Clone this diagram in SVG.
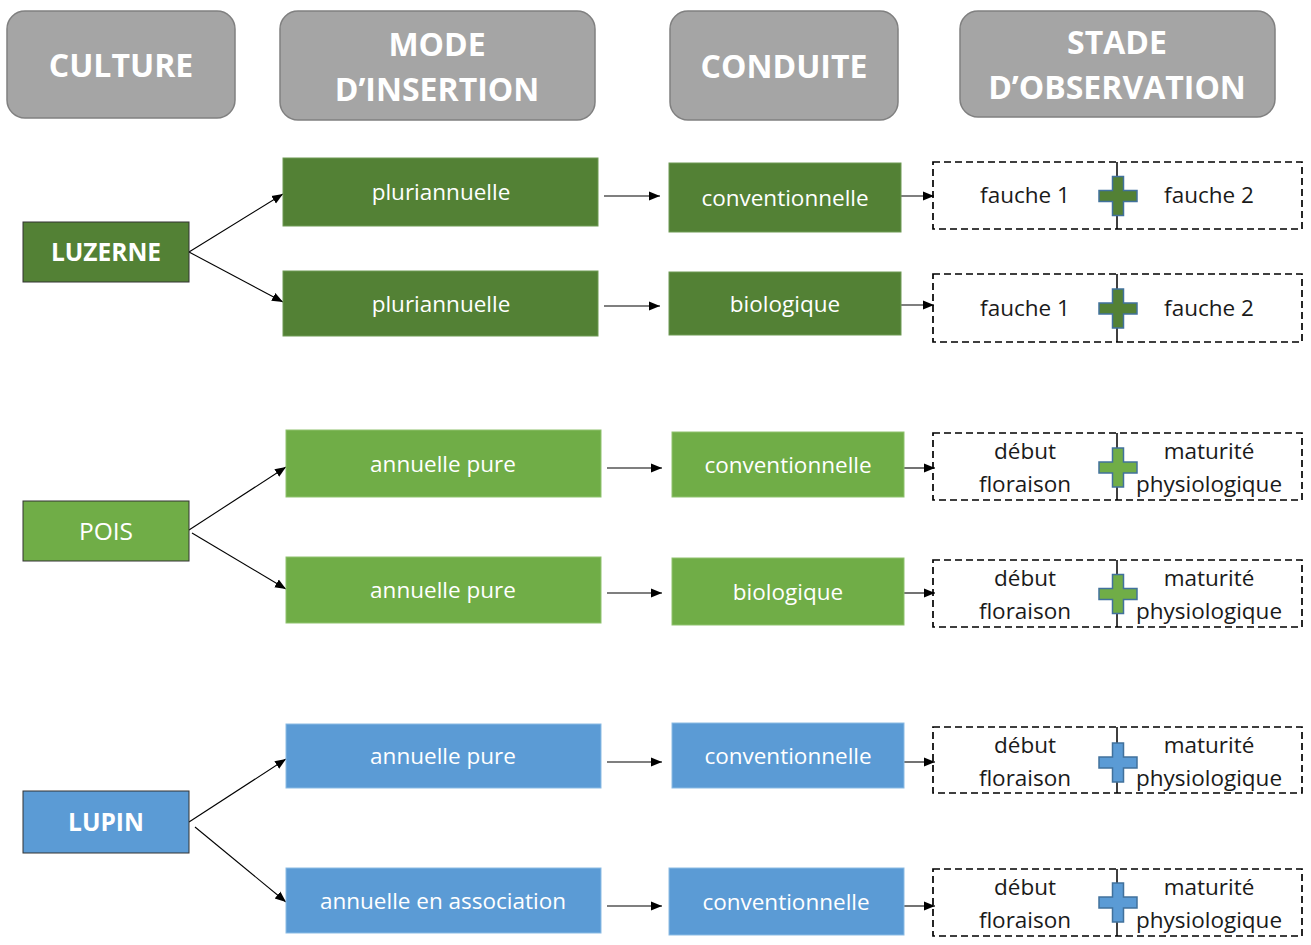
<svg xmlns="http://www.w3.org/2000/svg" width="1311" height="945" viewBox="0 0 1311 945">
<style>
text{font-family:"Open Sans","Noto Sans","DejaVu Sans",sans-serif;text-anchor:middle}
.hdr rect{fill:#a5a5a5;stroke:#808080;stroke-width:1.5}
.hdr text{fill:#fff;font-weight:bold;font-size:32px}
.cult text{fill:#fff;font-size:24.5px}
.b text{fill:#fff;font-size:22.5px}
.dk{fill:#538135}
.gr{fill:#70ad47}
.bl{fill:#5b9bd5}
.cult rect{stroke:#333;stroke-width:1}
.b rect{stroke-width:1}
.dk2{stroke:#6f9a55}
.gr2{stroke:#8fc26e}
.bl2{stroke:#8bbbe4}
.obs rect{fill:none;stroke:#000;stroke-width:1.7;stroke-dasharray:7 4}
.obs line{stroke:#000;stroke-width:1.5;stroke-dasharray:22 3}
.obs text{fill:#1a1a1a;font-size:22.5px}
.plus{stroke:#41719c;stroke-width:1.5}
.conn line{stroke:#000;stroke-width:1.1;marker-end:url(#ah)}
</style>
<defs>
<marker id="ah" viewBox="0 0 10 10" refX="10" refY="5" markerWidth="11" markerHeight="11" markerUnits="userSpaceOnUse" orient="auto">
<path d="M0,1 L10,5 L0,9 Z" fill="#000"/>
</marker>
<path id="plus" d="M-5.5,-19.5 H5.5 V-5.5 H19 V5.5 H5.5 V19.5 H-5.5 V5.5 H-19 V-5.5 H-5.5 Z"/>
</defs>
<rect width="1311" height="945" fill="#fff"/>

<g id="h-culture" class="hdr"><rect x="7" y="11" width="228" height="107" rx="18"/><text x="121" y="77">CULTURE</text></g>
<g id="h-mode" class="hdr"><rect x="280" y="11" width="315" height="109" rx="18"/><text x="437" y="56">MODE</text><text x="437" y="101">D’INSERTION</text></g>
<g id="h-conduite" class="hdr"><rect x="670" y="11" width="228" height="109" rx="18"/><text x="784" y="78">CONDUITE</text></g>
<g id="h-stade" class="hdr"><rect x="960" y="11" width="315" height="106" rx="18"/><text x="1117" y="54">STADE</text><text x="1117" y="99">D’OBSERVATION</text></g>

<g id="connectors" class="conn">
<line x1="189" y1="252" x2="283" y2="194"/>
<line x1="189" y1="252" x2="283" y2="302"/>
<line x1="604" y1="196" x2="660" y2="196"/>
<line x1="901" y1="196" x2="934" y2="196"/>
<line x1="604" y1="306" x2="660" y2="306"/>
<line x1="901" y1="305" x2="934" y2="305"/>
<line x1="189" y1="530" x2="286" y2="467"/>
<line x1="192" y1="533" x2="286" y2="589"/>
<line x1="607" y1="468" x2="662" y2="468"/>
<line x1="904" y1="468" x2="935" y2="468"/>
<line x1="607" y1="593" x2="662" y2="593"/>
<line x1="904" y1="593" x2="935" y2="593"/>
<line x1="189" y1="822" x2="286" y2="759"/>
<line x1="195" y1="827" x2="286" y2="902"/>
<line x1="607" y1="762" x2="662" y2="762"/>
<line x1="904" y1="762" x2="935" y2="762"/>
<line x1="607" y1="906" x2="662" y2="906"/>
<line x1="904" y1="906" x2="935" y2="906"/>
</g>

<g id="luzerne" class="cult"><rect class="dk" x="23" y="222" width="166" height="60"/><text x="106" y="261" font-weight="bold">LUZERNE</text></g>
<g id="pois" class="cult"><rect class="gr" x="23" y="501" width="166" height="60"/><text x="106" y="540">POIS</text></g>
<g id="lupin" class="cult"><rect class="bl" x="23" y="791" width="166" height="62"/><text x="106" y="831" font-weight="bold">LUPIN</text></g>

<g id="m1" class="b"><rect class="dk dk2" x="283" y="158" width="315" height="68"/><text x="441" y="200">pluriannuelle</text></g>
<g id="m2" class="b"><rect class="dk dk2" x="283" y="271" width="315" height="65"/><text x="441" y="312">pluriannuelle</text></g>
<g id="m3" class="b"><rect class="gr gr2" x="286" y="430" width="315" height="67"/><text x="443" y="472">annuelle pure</text></g>
<g id="m4" class="b"><rect class="gr gr2" x="286" y="557" width="315" height="66"/><text x="443" y="598">annuelle pure</text></g>
<g id="m5" class="b"><rect class="bl bl2" x="286" y="724" width="315" height="64"/><text x="443" y="764">annuelle pure</text></g>
<g id="m6" class="b"><rect class="bl bl2" x="286" y="868" width="315" height="65"/><text x="443" y="909">annuelle en association</text></g>

<g id="c1" class="b"><rect class="dk dk2" x="669" y="163" width="232" height="69"/><text x="785" y="206">conventionnelle</text></g>
<g id="c2" class="b"><rect class="dk dk2" x="669" y="272" width="232" height="63"/><text x="785" y="312">biologique</text></g>
<g id="c3" class="b"><rect class="gr gr2" x="672" y="432" width="232" height="65"/><text x="788" y="473">conventionnelle</text></g>
<g id="c4" class="b"><rect class="gr gr2" x="672" y="558" width="232" height="67"/><text x="788" y="600">biologique</text></g>
<g id="c5" class="b"><rect class="bl bl2" x="672" y="723" width="232" height="65"/><text x="788" y="764">conventionnelle</text></g>
<g id="c6" class="b"><rect class="bl bl2" x="669" y="868" width="235" height="67"/><text x="786" y="910">conventionnelle</text></g>

<g id="o1" class="obs"><rect x="933" y="162" width="369" height="67"/><line x1="1117" y1="162" x2="1117" y2="229"/><text x="1025" y="203">fauche 1</text><text x="1209" y="203">fauche 2</text><use href="#plus" class="plus dk" x="1118" y="196"/></g>
<g id="o2" class="obs"><rect x="933" y="274" width="369" height="68"/><line x1="1117" y1="274" x2="1117" y2="342"/><text x="1025" y="316">fauche 1</text><text x="1209" y="316">fauche 2</text><use href="#plus" class="plus dk" x="1118" y="308.5"/></g>
<g id="o3" class="obs"><rect x="933" y="433" width="369" height="67"/><line x1="1117" y1="433" x2="1117" y2="500"/><text x="1025" y="459">début</text><text x="1025" y="492">floraison</text><text x="1209" y="459">maturité</text><text x="1209" y="492">physiologique</text><use href="#plus" class="plus gr" x="1118" y="467.5"/></g>
<g id="o4" class="obs"><rect x="933" y="560" width="369" height="67"/><line x1="1117" y1="560" x2="1117" y2="627"/><text x="1025" y="586">début</text><text x="1025" y="619">floraison</text><text x="1209" y="586">maturité</text><text x="1209" y="619">physiologique</text><use href="#plus" class="plus gr" x="1118" y="594"/></g>
<g id="o5" class="obs"><rect x="933" y="727" width="369" height="66"/><line x1="1117" y1="727" x2="1117" y2="793"/><text x="1025" y="753">début</text><text x="1025" y="786">floraison</text><text x="1209" y="753">maturité</text><text x="1209" y="786">physiologique</text><use href="#plus" class="plus bl" x="1118" y="762.5"/></g>
<g id="o6" class="obs"><rect x="933" y="869" width="369" height="67"/><line x1="1117" y1="869" x2="1117" y2="936"/><text x="1025" y="895">début</text><text x="1025" y="928">floraison</text><text x="1209" y="895">maturité</text><text x="1209" y="928">physiologique</text><use href="#plus" class="plus bl" x="1118" y="902.5"/></g>
</svg>
